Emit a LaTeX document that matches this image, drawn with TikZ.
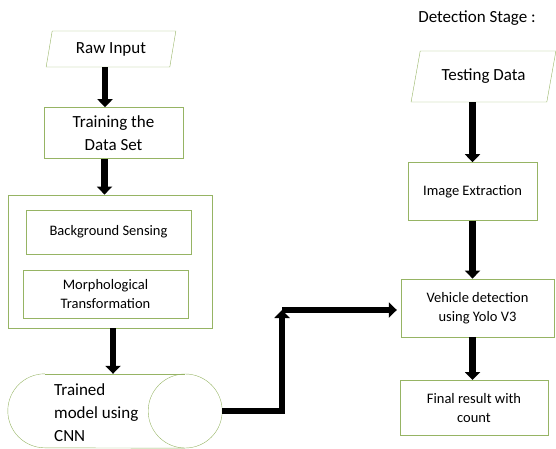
\documentclass[tikz,border=0pt]{standalone}
\usepackage{fontspec}
\setmainfont{Carlito}
\usepackage{tikz}
\usetikzlibrary{positioning,shapes.geometric,arrows.meta}
\definecolor{boxgreen}{RGB}{150,180,100}
\tikzset{
    bigtext/.style={font=\fontsize{17}{23}\selectfont},
    smalltext/.style={font=\fontsize{14.5}{19}\selectfont},
    punkt/.style={
      rectangle,
      draw=boxgreen, thin,
      align=center,
      bigtext},
    smallpunkt/.style={punkt, smalltext},
    datain/.style={
      trapezium,
      trapezium stretches=true,
      draw=boxgreen, thin,
      bigtext},
    cylline/.style={draw=boxgreen, thin},
    fatline/.style={draw, line width=6.5pt, -{Triangle[length=8pt,width=15pt]}},
}

\begin{document}
\begin{tikzpicture}[x=1pt,y=1pt]
      \useasboundingbox (0,0) rectangle (556,-449);
      % training stage
      \node[datain, trapezium left angle=79, trapezium right angle=101,
            minimum width=130pt, minimum height=36pt] (rawIn) at (111,-49) {Raw Input};
      \node[punkt, minimum width=139pt, minimum height=51pt,
            below=40pt of rawIn, xshift=2.5pt] (trainSet) {Training the\\Data Set};
      \node[punkt, minimum width=204pt, minimum height=133pt,
            below=36pt of trainSet, xshift=-3.5pt] (preProc) {};
      \node[smallpunkt, minimum width=165pt, minimum height=44pt,
            below=15pt of preProc.north, xshift=-1.5pt] (bgSense) {Background Sensing};
      \node[smallpunkt, minimum width=165pt, minimum height=48pt,
            below=16pt of bgSense, xshift=-3pt] (morphTrans) {Morphological\\Transformation};
      % cylinder drawn by hand on an empty node
      \node[minimum width=214pt, minimum height=74pt, inner sep=0pt] (cnnModel) at (115,-411) {};
      \draw[cylline] ([xshift=37pt]cnnModel.north west) arc[start angle=90, end angle=270, radius=37pt]
            -- ([xshift=-37pt]cnnModel.south east);
      \draw[cylline] ([xshift=37pt]cnnModel.north west) -- ([xshift=-37pt]cnnModel.north east);
      \draw[cylline] ([xshift=-37pt]cnnModel.east) circle[radius=37pt];
      \node[bigtext, align=left, anchor=west, inner sep=0pt] (cnnText) at (54,-413) {Trained\\model using\\CNN};

      % detection stage
      \node[bigtext] (detectLbl) at (477,-18) {Detection Stage :};
      \node[datain, trapezium left angle=73, trapezium right angle=107,
            minimum width=145pt, minimum height=51pt] (testData) at (483.5,-76.5) {Testing Data};
      \node[smallpunkt, minimum width=129pt, minimum height=58pt,
            below=60pt of testData, xshift=-11pt] (imgExtract) {Image Extraction};
      \node[smallpunkt, minimum width=153pt, minimum height=58pt,
            below=58pt of imgExtract, xshift=5pt] (yoloDetect) {Vehicle detection\\using Yolo V3};
      \node[smallpunkt, minimum width=148pt, minimum height=55pt,
            below=43pt of yoloDetect, xshift=-3.5pt] (finalCount) {Final result with\\count};

      \coordinate (bend) at (282,-310);

      \draw[fatline] ([xshift=-6pt]rawIn.south) -- ([xshift=-6pt]rawIn.south |- trainSet.north);
      \draw[fatline] ([xshift=-9pt]trainSet.south) -- ([xshift=-9pt]trainSet.south |- preProc.north);
      \draw[fatline] ([xshift=3pt]preProc.south) -- ([xshift=3pt]preProc.south |- cnnModel.north);
      \draw[fatline] (imgExtract.north |- testData.south) -- (imgExtract.north);
      \draw[fatline] (imgExtract.south) -- (imgExtract.south |- yoloDetect.north);
      \draw[fatline] ([xshift=-5pt]yoloDetect.south) -- ([xshift=-5pt]yoloDetect.south |- finalCount.north);
      \draw[fatline] (cnnModel.east) -| (bend);
      \draw[fatline] (bend) -- ([xshift=-4pt]yoloDetect.west |- bend);
\end{tikzpicture}
\end{document}
